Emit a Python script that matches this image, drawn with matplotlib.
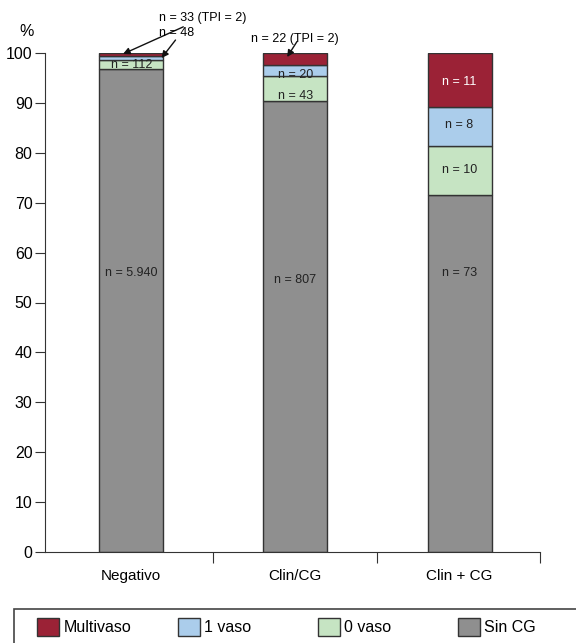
import numpy as np
import matplotlib.pyplot as plt
from matplotlib.patches import Rectangle

plt.rcParams['font.family'] = ['Liberation Sans', 'DejaVu Sans']

groups = ['Negativo', 'Clin/CG', 'Clin + CG']
series = ['Sin CG', '0 vaso', '1 vaso', 'Multivaso']
# counts per group (bottom to top)
sin_cg = [5940, 807, 73]
vaso0 = [112, 43, 10]
vaso1 = [48, 20, 8]
multi = [33, 22, 11]
count_labels = [['n = 5.940', 'n = 807', 'n = 73'],
                ['n = 112', 'n = 43', 'n = 10'],
                ['', 'n = 20', 'n = 8'],
                ['', '', 'n = 11']]
colors = ['#8f8f8f', '#c6e4c3', '#abcdeb', '#9b2236']
txtcol = ['#222222', '#222222', '#222222', 'white']

counts = np.array([sin_cg, vaso0, vaso1, multi], dtype=float)
pct = counts / counts.sum(axis=0) * 100

fig = plt.figure(figsize=(5.76, 6.43), dpi=100)
ax = fig.add_axes([45/576, 1-552/643, 495/576, 499/643])

x = np.arange(len(groups))
bottom = np.zeros(len(groups))
handles = []
for i, s in enumerate(series):
    b = ax.bar(x, pct[i], 0.39, bottom=bottom, color=colors[i], edgecolor='#333333',
               linewidth=1.0, label=s, zorder=2)
    handles.append(b)
    bottom += pct[i]

# labels inside bars
lab_y = [[56, 54.5, 56], [97.5, 91.3, 76.5], [0, 95.6, 85.5], [0, 0, 94.2]]
for i in range(4):
    for j in range(3):
        if count_labels[i][j]:
            ax.text(x[j], lab_y[i][j], count_labels[i][j], ha='center', va='center',
                    fontsize=9, color=txtcol[i], zorder=3)

# annotations with arrows
arr = dict(arrowstyle='-|>', color='#111111', lw=1, mutation_scale=10, shrinkA=0, shrinkB=0)
ax.annotate('n = 33 (TPI = 2)', xy=(-0.05, 99.8), xytext=(0.17, 107.0),
            fontsize=9, va='center', ha='left', arrowprops=arr, annotation_clip=False)
ax.annotate('n = 48', xy=(0.185, 99.0), xytext=(0.17, 104.0),
            fontsize=9, va='center', ha='left', annotation_clip=False)
ax.annotate('', xy=(0.185, 99.0), xytext=(0.27, 102.6), arrowprops=arr, annotation_clip=False)
ax.annotate('n = 22 (TPI = 2)', xy=(0.95, 99.2), xytext=(0.73, 102.9),
            fontsize=9, va='center', ha='left', annotation_clip=False)
ax.annotate('', xy=(0.95, 99.2), xytext=(1.01, 102.3), arrowprops=arr, annotation_clip=False)

ax.set_xlim(-0.525, 2.49)
ax.set_ylim(0, 100)
ax.set_yticks(np.arange(0, 101, 10))
ax.set_xticks([0.5, 1.5, 2.49])
ax.set_xticklabels([])
ax.set_xticks(x, minor=True)
ax.set_xticklabels(groups, minor=True, fontsize=11)
ax.tick_params(axis='x', which='major', length=8, direction='out', color='#333333')
ax.tick_params(axis='x', which='minor', length=0, pad=12)
ax.tick_params(axis='y', length=7, direction='out', color='#333333', labelsize=11.5, pad=2)
for sp in ['top', 'right']:
    ax.spines[sp].set_visible(False)
for sp in ['left', 'bottom']:
    ax.spines[sp].set_color('#333333')
fig.text(27/576, 1-31/643, '%', fontsize=11.5, ha='center', va='center')

# legend box (extends past the figure edge)
fig.patches.append(Rectangle((14/576, -0.05), 1.0, 0.05 + (643-609)/643, transform=fig.transFigure,
                             fill=False, edgecolor='#444444', lw=1.2))
order = [3, 2, 1, 0]
xs = [37, 178, 318, 458]
for k, xp in zip(order, xs):
    fig.legend([handles[k]], [series[k]], frameon=False, loc='center left',
               bbox_to_anchor=(xp/576, 1-627/643), fontsize=11.5, borderpad=0,
               borderaxespad=0, handlelength=1.4, handleheight=1.45, handletextpad=0.25)

fig.savefig('out.png', dpi=100)
